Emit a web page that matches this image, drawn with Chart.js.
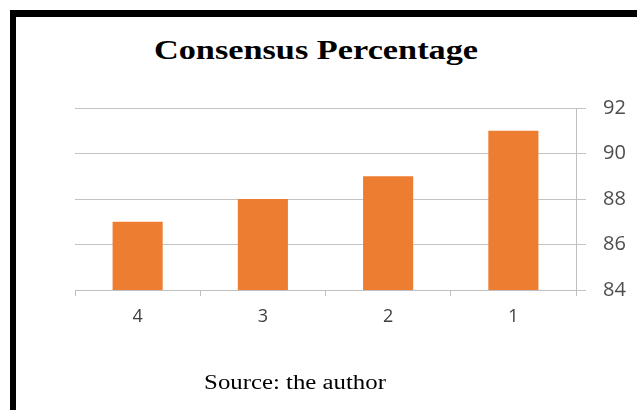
<!DOCTYPE html>
<html>
<head>
<meta charset="utf-8">
<script src="https://cdn.jsdelivr.net/npm/chart.js@4"></script>
<style>
  html, body { margin: 0; padding: 0; background: #fff; }
  #wrap { position: relative; width: 637px; height: 410px; overflow: hidden; }
  #topBar { position: absolute; left: 10px; top: 10px; width: 627px; height: 7px; background: #000; }
  #leftBar { position: absolute; left: 10px; top: 10px; width: 6px; height: 400px; background: #000; }
  #title { position: absolute; left: 0; width: 632px; top: 35px; text-align: center;
           font: bold 27px "Liberation Serif", "Times New Roman", serif; color: #000;
           transform: scaleX(1.27); transform-origin: 316px 0; }
  #source { position: absolute; left: 0; width: 590px; top: 371px; text-align: center;
            font: 20px "Liberation Serif", "Times New Roman", serif; color: #000;
            transform: scaleX(1.24); transform-origin: 295px 0; }
  canvas { position: absolute; left: 0; top: 0; }
</style>
</head>
<body>
<div id="wrap">
  <div id="topBar"></div>
  <div id="leftBar"></div>
  <div id="title">Consensus Percentage</div>
  <canvas id="chart" width="637" height="410"></canvas>
  <div id="source">Source: the author</div>
</div>
<script>
const categories = ['4', '3', '2', '1'];
const consensus = [87, 88, 89, 91];
const yTicks = [84, 86, 88, 90, 92];

const ctx = document.getElementById('chart').getContext('2d');

new Chart(ctx, {
    type: 'bar',
    data: {
        labels: categories,
        datasets: [{
            label: 'Consensus Percentage',
            data: consensus,
            backgroundColor: '#ED7D31',
            borderWidth: 0,
            categoryPercentage: 1,
            barPercentage: 0.4
        }]
    },
    options: {
        responsive: false,
        animation: false,
        layout: {
            padding: { left: 75, top: 108, bottom: 80, right: 0 }
        },
        plugins: {
            legend: { display: false },
            tooltip: { enabled: false }
        },
        scales: {
            x: {
                offset: true,
                grid: {
                    offset: true,
                    drawOnChartArea: false,
                    drawTicks: true,
                    tickLength: 6,
                    color: '#bfbfbf'
                },
                border: { color: '#bfbfbf', width: 1 },
                ticks: {
                    color: '#404040',
                    padding: 10,
                    font: { family: '"Open Sans", Lato, sans-serif', size: 18 }
                },
                afterFit: (scale) => { scale.height = 40; }
            },
            y: {
                position: 'right',
                min: yTicks[0],
                max: yTicks[yTicks.length - 1],
                afterBuildTicks: (scale) => { scale.ticks = yTicks.map(v => ({ value: v })); },
                grid: {
                    color: '#c4c4c4',
                    drawTicks: true,
                    tickLength: 10
                },
                border: { color: '#bfbfbf', width: 1 },
                ticks: {
                    color: '#4d4d4d',
                    padding: 17,
                    font: { family: '"Open Sans", Lato, sans-serif', size: 20 }
                },
                afterFit: (scale) => { scale.width = 61; }
            }
        }
    }
});
</script>
</body>
</html>
